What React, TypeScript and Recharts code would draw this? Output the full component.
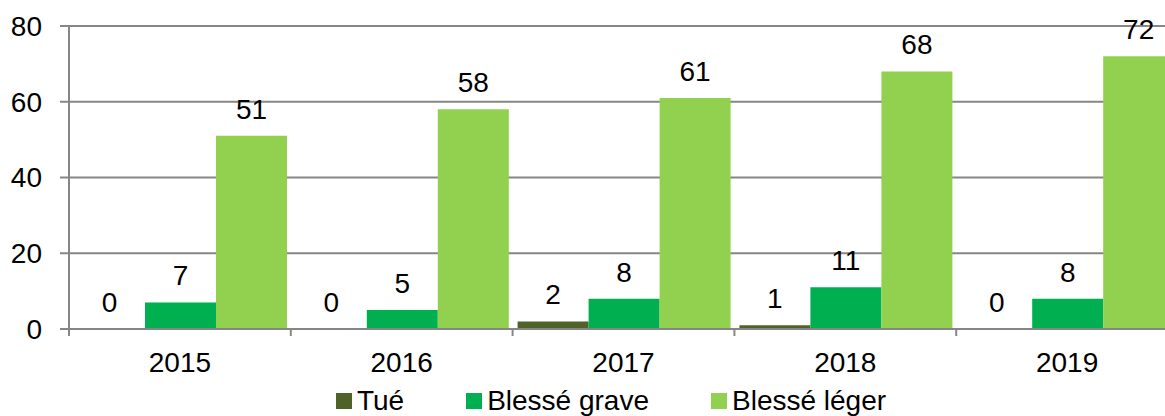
import React from 'react';
import { BarChart, Bar, XAxis, YAxis, CartesianGrid, Legend, LabelList } from 'recharts';

const years = ['2015', '2016', '2017', '2018', '2019'];
const tue = [0, 0, 2, 1, 0];
const blesseGrave = [7, 5, 8, 11, 8];
const blesseLeger = [51, 58, 61, 68, 72];
const yTicks = [0, 20, 40, 60, 80];

const series = [
    { key: 'tue', name: 'Tué', color: '#4F6228' },
    { key: 'grave', name: 'Blessé grave', color: '#00B050' },
    { key: 'leger', name: 'Blessé léger', color: '#92D050' },
];

const data = years.map((year, i) => ({
    year,
    tue: tue[i],
    grave: blesseGrave[i],
    leger: blesseLeger[i],
}));

const FONT = '"Liberation Sans", Arial, sans-serif';
const FS = 28;
const AXIS = '#868686';

const XTick = (props: any) => {
    const { x, y, payload } = props;
    const off = payload && payload.offset ? payload.offset : 0;
    return (
        <g>
            <line x1={x - off} x2={x - off} y1={y} y2={y + 7} stroke={AXIS} strokeWidth={2} />
            <text x={x} y={y + 43} textAnchor="middle" fontSize={FS} fill="#000" fontFamily={FONT}>
                {payload.value}
            </text>
        </g>
    );
};

// draws value labels ourselves so that zero values still show a "0"
const ValueLabel = (props: any) => {
    const { x, y, width, value } = props;
    return (
        <text x={x + width / 2} y={y - 17} textAnchor="middle" fontSize={FS} fill="#000" fontFamily={FONT}>
            {String(value)}
        </text>
    );
};

// zero bars get a hair-thin height so recharts keeps them (and their label)
const tinyForZero = (value: any) => (value === 0 ? 0.001 : 0);

const LegendContent = () => (
    <div style={{ display: 'flex', justifyContent: 'center', paddingTop: 10, paddingLeft: 44, fontFamily: FONT, fontSize: FS }}>
        {series.map((s, i) => (
            <div key={s.key} style={{ display: 'flex', alignItems: 'center', marginRight: i < series.length - 1 ? 62 : 0 }}>
                <span style={{ width: 16, height: 16, background: s.color, marginRight: 5, display: 'inline-block' }} />
                <span style={{ lineHeight: '30px' }}>{s.name}</span>
            </div>
        ))}
    </div>
);

export default function App() {
    return (
        <div style={{ position: 'absolute', left: 0, top: 0, width: 1165, height: 416, overflow: 'hidden', background: '#fff' }}>
            <BarChart
                width={1180}
                height={416}
                data={data}
                margin={{ top: 26, right: 2, left: 0, bottom: 0 }}
                barCategoryGap={5}
                barGap={0}
            >
                <CartesianGrid vertical={false} stroke={AXIS} strokeWidth={2} />
                <YAxis
                    domain={[0, 80]}
                    ticks={yTicks}
                    width={69}
                    tickSize={9}
                    tickMargin={18}
                    axisLine={{ stroke: AXIS, strokeWidth: 2 }}
                    tickLine={{ stroke: AXIS, strokeWidth: 2 }}
                    tick={{ fontSize: FS, fill: '#000', fontFamily: FONT }}
                />
                <XAxis
                    dataKey="year"
                    height={47}
                    tickSize={0}
                    tickMargin={0}
                    tickLine={false}
                    axisLine={{ stroke: AXIS, strokeWidth: 2 }}
                    tick={<XTick />}
                />
                <Legend verticalAlign="bottom" height={40} content={<LegendContent />} />
                {series.map((s) => (
                    <Bar
                        key={s.key}
                        dataKey={s.key}
                        name={s.name}
                        fill={s.color}
                        minPointSize={tinyForZero}
                        isAnimationActive={false}
                    >
                        <LabelList dataKey={s.key} content={<ValueLabel />} />
                    </Bar>
                ))}
            </BarChart>
        </div>
    );
}
